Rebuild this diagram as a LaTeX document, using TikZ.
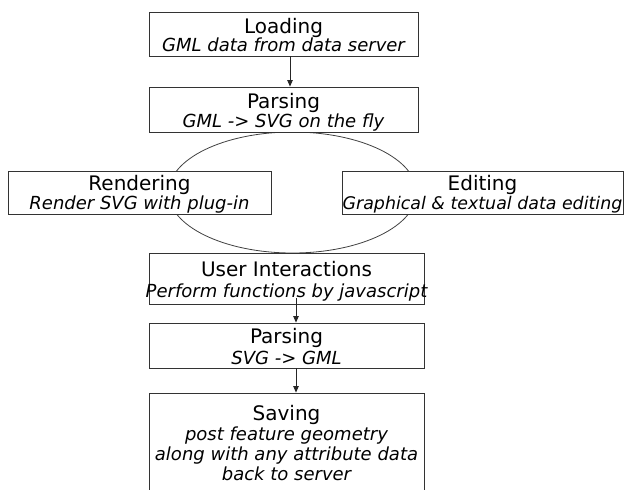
\documentclass[tikz,border=0pt]{standalone}
\usepackage{fontspec}
\setmainfont{DejaVu Sans}
\usetikzlibrary{arrows.meta,calc,shapes.geometric}
\begin{document}
\begin{tikzpicture}[x=1pt,y=-1pt,
  box/.style={draw=black!80, line width=0.9pt, fill=white, rectangle, inner sep=0pt},
  ring/.style={draw=black!75, line width=0.8pt, ellipse, inner sep=0pt},
  ttl/.style={font=\fontsize{20}{22}\selectfont, anchor=base, inner sep=0pt},
  sub/.style={font=\fontsize{18}{20}\selectfont\itshape, anchor=base, inner sep=0pt},
  arr/.style={draw=black!85, line width=0.8pt, -{Triangle[length=6.5pt,width=5.5pt]}}]
\useasboundingbox (0,0) rectangle (624,490);
\clip (0,0) rectangle (624,490);
% cycle ellipse behind the boxes
\node[ring, minimum width=248pt, minimum height=121pt] (cyc) at (292.5,192.5) {};
% boxes
\node[box, minimum width=269pt, minimum height=44pt] (load) at (283.5,34) {};
\node[box, minimum width=269pt, minimum height=45pt] (pars1) at (283.5,109.5) {};
\node[box, minimum width=263pt, minimum height=43pt] (rend) at (139.5,192.5) {};
\node[box, minimum width=281pt, minimum height=43pt] (edit) at (482.5,192.5) {};
\node[box, minimum width=275pt, minimum height=51pt] (ui) at (286.5,278.5) {};
\node[box, minimum width=275pt, minimum height=45pt] (pars2) at (286.5,345.5) {};
\node[box, minimum width=275pt, minimum height=107pt] (save) at (286.5,446.5) {};
% texts
\node[ttl] (loadT) at (283.5,33) {Loading};
\node[sub] (loadS) at (283.5,51) {GML data from data server};
\node[ttl] (pars1T) at (283.5,108) {Parsing};
\node[sub] (pars1S) at (283.5,127) {GML -> SVG on the fly};
\node[ttl] (rendT) at (139.5,190) {Rendering};
\node[sub] (rendS) at (139.5,209) {Render SVG with plug-in};
\node[ttl] (editT) at (482.5,190) {Editing};
\node[sub, font=\fontsize{17.4}{20}\selectfont\itshape] (editS) at (482.5,209) {Graphical \& textual data editing};
\node[ttl] (uiT) at (286.5,276) {User Interactions};
\node[sub] (uiS) at (286.5,297) {Perform functions by javascript};
\node[ttl] (pars2T) at (286.5,343) {Parsing};
\node[sub] (pars2S) at (286.5,364) {SVG -> GML};
\node[ttl] (saveT) at (286.5,420) {Saving};
\node[sub] (saveS1) at (286.5,440) {post feature geometry};
\node[sub] (saveS2) at (286.5,460) {along with any attribute data};
\node[sub] (saveS3) at (286.5,480) {back to server};
% arrows
\draw[arr] ($(load.south)+(6.5,0)$) -- ($(pars1.north)+(6.5,0)$);
\draw[arr] ($(ui.south)+(9.5,-6)$) -- ($(pars2.north)+(9.5,0)$);
\draw[arr] ($(pars2.south)+(9.5,0)$) -- ($(save.north)+(9.5,0)$);
\end{tikzpicture}
\end{document}
